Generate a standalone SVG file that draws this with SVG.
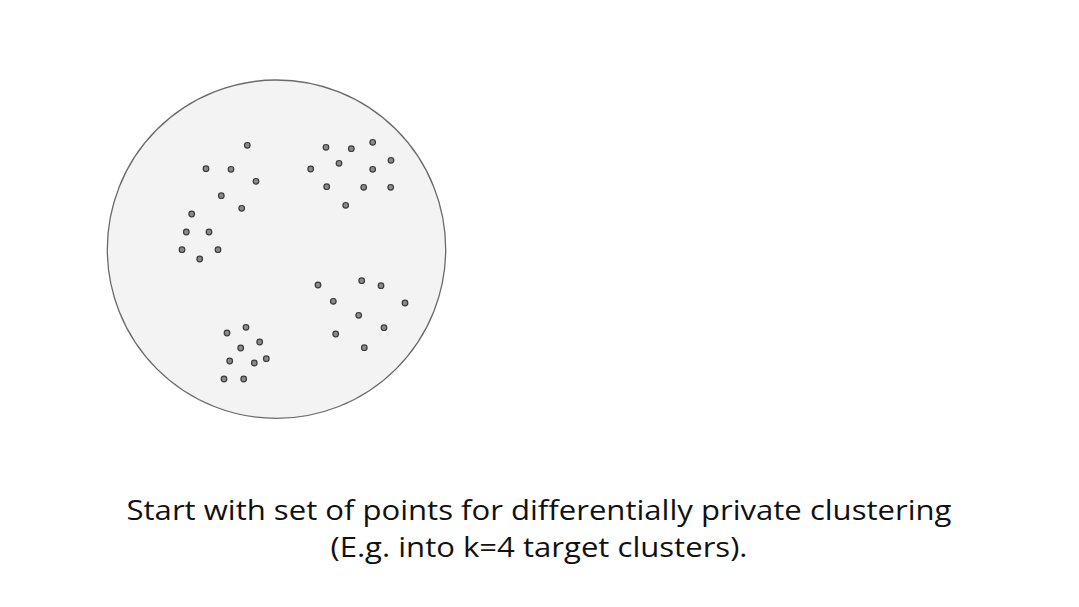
<svg xmlns="http://www.w3.org/2000/svg" width="1079" height="607" viewBox="0 0 1079 607">
<style>
.pt{fill:#8a8a8a;stroke:#3a3a3a;stroke-width:1.2}
.cap{font-family:"Open Sans","Noto Sans",sans-serif;font-size:27px;fill:#111;text-anchor:middle}
</style>
<rect width="1079" height="607" fill="#ffffff"/>
<g id="field">
<circle cx="276.5" cy="249.2" r="169.2" fill="#f3f3f3" stroke="#6a6a6a" stroke-width="1.3"/>
</g>
<g id="cluster-top-left">
<circle class="pt" cx="247.3" cy="145.3" r="2.8"/>
<circle class="pt" cx="206" cy="168.7" r="2.8"/>
<circle class="pt" cx="231" cy="169.3" r="2.8"/>
<circle class="pt" cx="256" cy="181.3" r="2.8"/>
<circle class="pt" cx="221.3" cy="195.7" r="2.8"/>
<circle class="pt" cx="241.7" cy="208.3" r="2.8"/>
<circle class="pt" cx="191.7" cy="214" r="2.8"/>
<circle class="pt" cx="186.3" cy="232" r="2.8"/>
<circle class="pt" cx="209" cy="232" r="2.8"/>
<circle class="pt" cx="182" cy="249.7" r="2.8"/>
<circle class="pt" cx="218" cy="249.7" r="2.8"/>
<circle class="pt" cx="199.7" cy="259" r="2.8"/>
</g>
<g id="cluster-top-right">
<circle class="pt" cx="326" cy="147.3" r="2.8"/>
<circle class="pt" cx="351.3" cy="148.7" r="2.8"/>
<circle class="pt" cx="372.7" cy="142.3" r="2.8"/>
<circle class="pt" cx="391" cy="160.3" r="2.8"/>
<circle class="pt" cx="339" cy="163.3" r="2.8"/>
<circle class="pt" cx="310.7" cy="169" r="2.8"/>
<circle class="pt" cx="372.7" cy="169.3" r="2.8"/>
<circle class="pt" cx="326.7" cy="186.7" r="2.8"/>
<circle class="pt" cx="363.7" cy="187.3" r="2.8"/>
<circle class="pt" cx="390.7" cy="187.3" r="2.8"/>
<circle class="pt" cx="345.7" cy="205.3" r="2.8"/>
</g>
<g id="cluster-bottom-right">
<circle class="pt" cx="318" cy="285" r="2.8"/>
<circle class="pt" cx="361.7" cy="280.7" r="2.8"/>
<circle class="pt" cx="381" cy="285.7" r="2.8"/>
<circle class="pt" cx="333.3" cy="301.3" r="2.8"/>
<circle class="pt" cx="405" cy="303" r="2.8"/>
<circle class="pt" cx="358.7" cy="315.3" r="2.8"/>
<circle class="pt" cx="384" cy="327.7" r="2.8"/>
<circle class="pt" cx="335.7" cy="334" r="2.8"/>
<circle class="pt" cx="364.3" cy="347.7" r="2.8"/>
</g>
<g id="cluster-bottom-left">
<circle class="pt" cx="246" cy="327.3" r="2.8"/>
<circle class="pt" cx="227" cy="333" r="2.8"/>
<circle class="pt" cx="259.7" cy="342" r="2.8"/>
<circle class="pt" cx="240.7" cy="348" r="2.8"/>
<circle class="pt" cx="229.7" cy="361" r="2.8"/>
<circle class="pt" cx="266.3" cy="358.7" r="2.8"/>
<circle class="pt" cx="254.3" cy="363" r="2.8"/>
<circle class="pt" cx="224" cy="379" r="2.8"/>
<circle class="pt" cx="243.7" cy="379" r="2.8"/>
</g>
<g id="connectors"></g>
<g id="caption">
<text class="cap" x="539" y="520" textLength="825" lengthAdjust="spacingAndGlyphs">Start with set of points for differentially private clustering</text>
<text class="cap" x="539" y="557" textLength="417" lengthAdjust="spacingAndGlyphs">(E.g. into k=4 target clusters).</text>
</g>
</svg>
